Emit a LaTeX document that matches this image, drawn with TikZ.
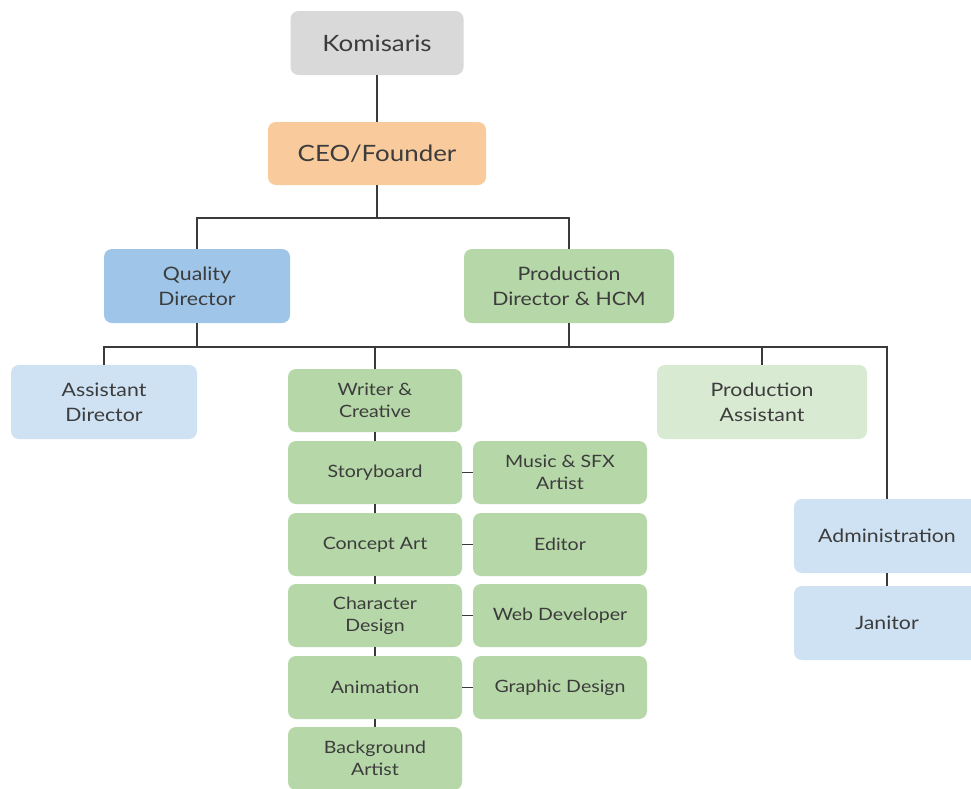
\documentclass[tikz,border=0pt]{standalone}
\usepackage{fontspec}
\setmainfont{Lato}[FakeStretch=1.15]
\definecolor{txt}{HTML}{3C3C3C}
\definecolor{lgray}{HTML}{D9D9D9}
\definecolor{orng}{HTML}{F9CB9C}
\definecolor{blu}{HTML}{9FC5E8}
\definecolor{lblu}{HTML}{CFE2F3}
\definecolor{grn}{HTML}{B6D7A8}
\definecolor{lgrn}{HTML}{D9EAD3}
\definecolor{ln}{HTML}{3A3A3A}
\begin{document}
\begin{tikzpicture}[x=1pt,y=-1pt,
  box/.style={rounded corners=8pt, inner sep=0pt, align=center, text=txt},
  big/.style={box, font=\fontsize{22.5}{26}\selectfont},
  mid/.style={box, minimum width=186pt, minimum height=74pt, font=\fontsize{18.5}{25}\selectfont},
  sml/.style={box, fill=grn, minimum width=174pt, minimum height=63pt, font=\fontsize{17}{22}\selectfont},
  conn/.style={draw=ln, line width=1.4pt}]
\useasboundingbox (0,0) rectangle (971,788);
\fill[white] (0,0) rectangle (971,788);
% top
\node[big, fill=lgray, minimum width=173pt, minimum height=64pt] (kom) at (377,43) {Komisaris};
\node[big, fill=orng, minimum width=218pt, minimum height=63pt] (ceo) at (377,153.5) {CEO/Founder};
% level 2
\node[mid, fill=blu] (qd) at (197,286) {Quality\\Director};
\node[mid, fill=grn, minimum width=210pt] (pd) at (569,286) {Production\\Director \& HCM};
% level 3
\node[mid, fill=lblu] (ad) at (104,402) {Assistant\\Director};
\node[mid, fill=lgrn, minimum width=210pt] (pa) at (762,402) {Production\\Assistant};
\node[mid, fill=lblu, minimum width=186pt] (adm) at (887,536) {Administration};
\node[mid, fill=lblu, minimum width=186pt] (jan) at (887,623) {Janitor};
% left column
\node[sml] (wc) at (375,400.5) {Writer \&\\Creative};
\node[sml] (sb) at (375,472.5) {Storyboard};
\node[sml] (ca) at (375,544.5) {Concept Art};
\node[sml] (cd) at (375,615.5) {Character\\Design};
\node[sml] (an) at (375,687.5) {Animation};
\node[sml] (ba) at (375,758.5) {Background\\Artist};
% right column
\node[sml] (ms) at (560,472.5) {Music \& SFX\\Artist};
\node[sml] (ed) at (560,544.5) {Editor};
\node[sml] (wd) at (560,615.5) {Web Developer};
\node[sml] (gd) at (560,687.5) {Graphic Design};
% bars
\coordinate (b1) at (377,218);
\coordinate (b2) at (887,347);
% connectors
\draw[conn] (kom) -- (ceo);
\draw[conn] (ceo.south) -- (b1);
\draw[conn] (qd.north) |- (b1) -| (pd.north);
\draw[conn] (ad.north) |- (b2) -- (adm.north);
\draw[conn] (qd.south) -- (qd.south |- b2);
\draw[conn] (pd.south) -- (pd.south |- b2);
\draw[conn] (wc.north) -- (wc.north |- b2);
\draw[conn] (pa.north) -- (pa.north |- b2);
\draw[conn] (adm) -- (jan);
\draw[conn] (wc) -- (sb);
\draw[conn] (sb) -- (ca);
\draw[conn] (ca) -- (cd);
\draw[conn] (cd) -- (an);
\draw[conn] (an) -- (ba);
\draw[conn] (sb) -- (ms);
\draw[conn] (ca) -- (ed);
\draw[conn] (cd) -- (wd);
\draw[conn] (an) -- (gd);
\end{tikzpicture}
\end{document}
